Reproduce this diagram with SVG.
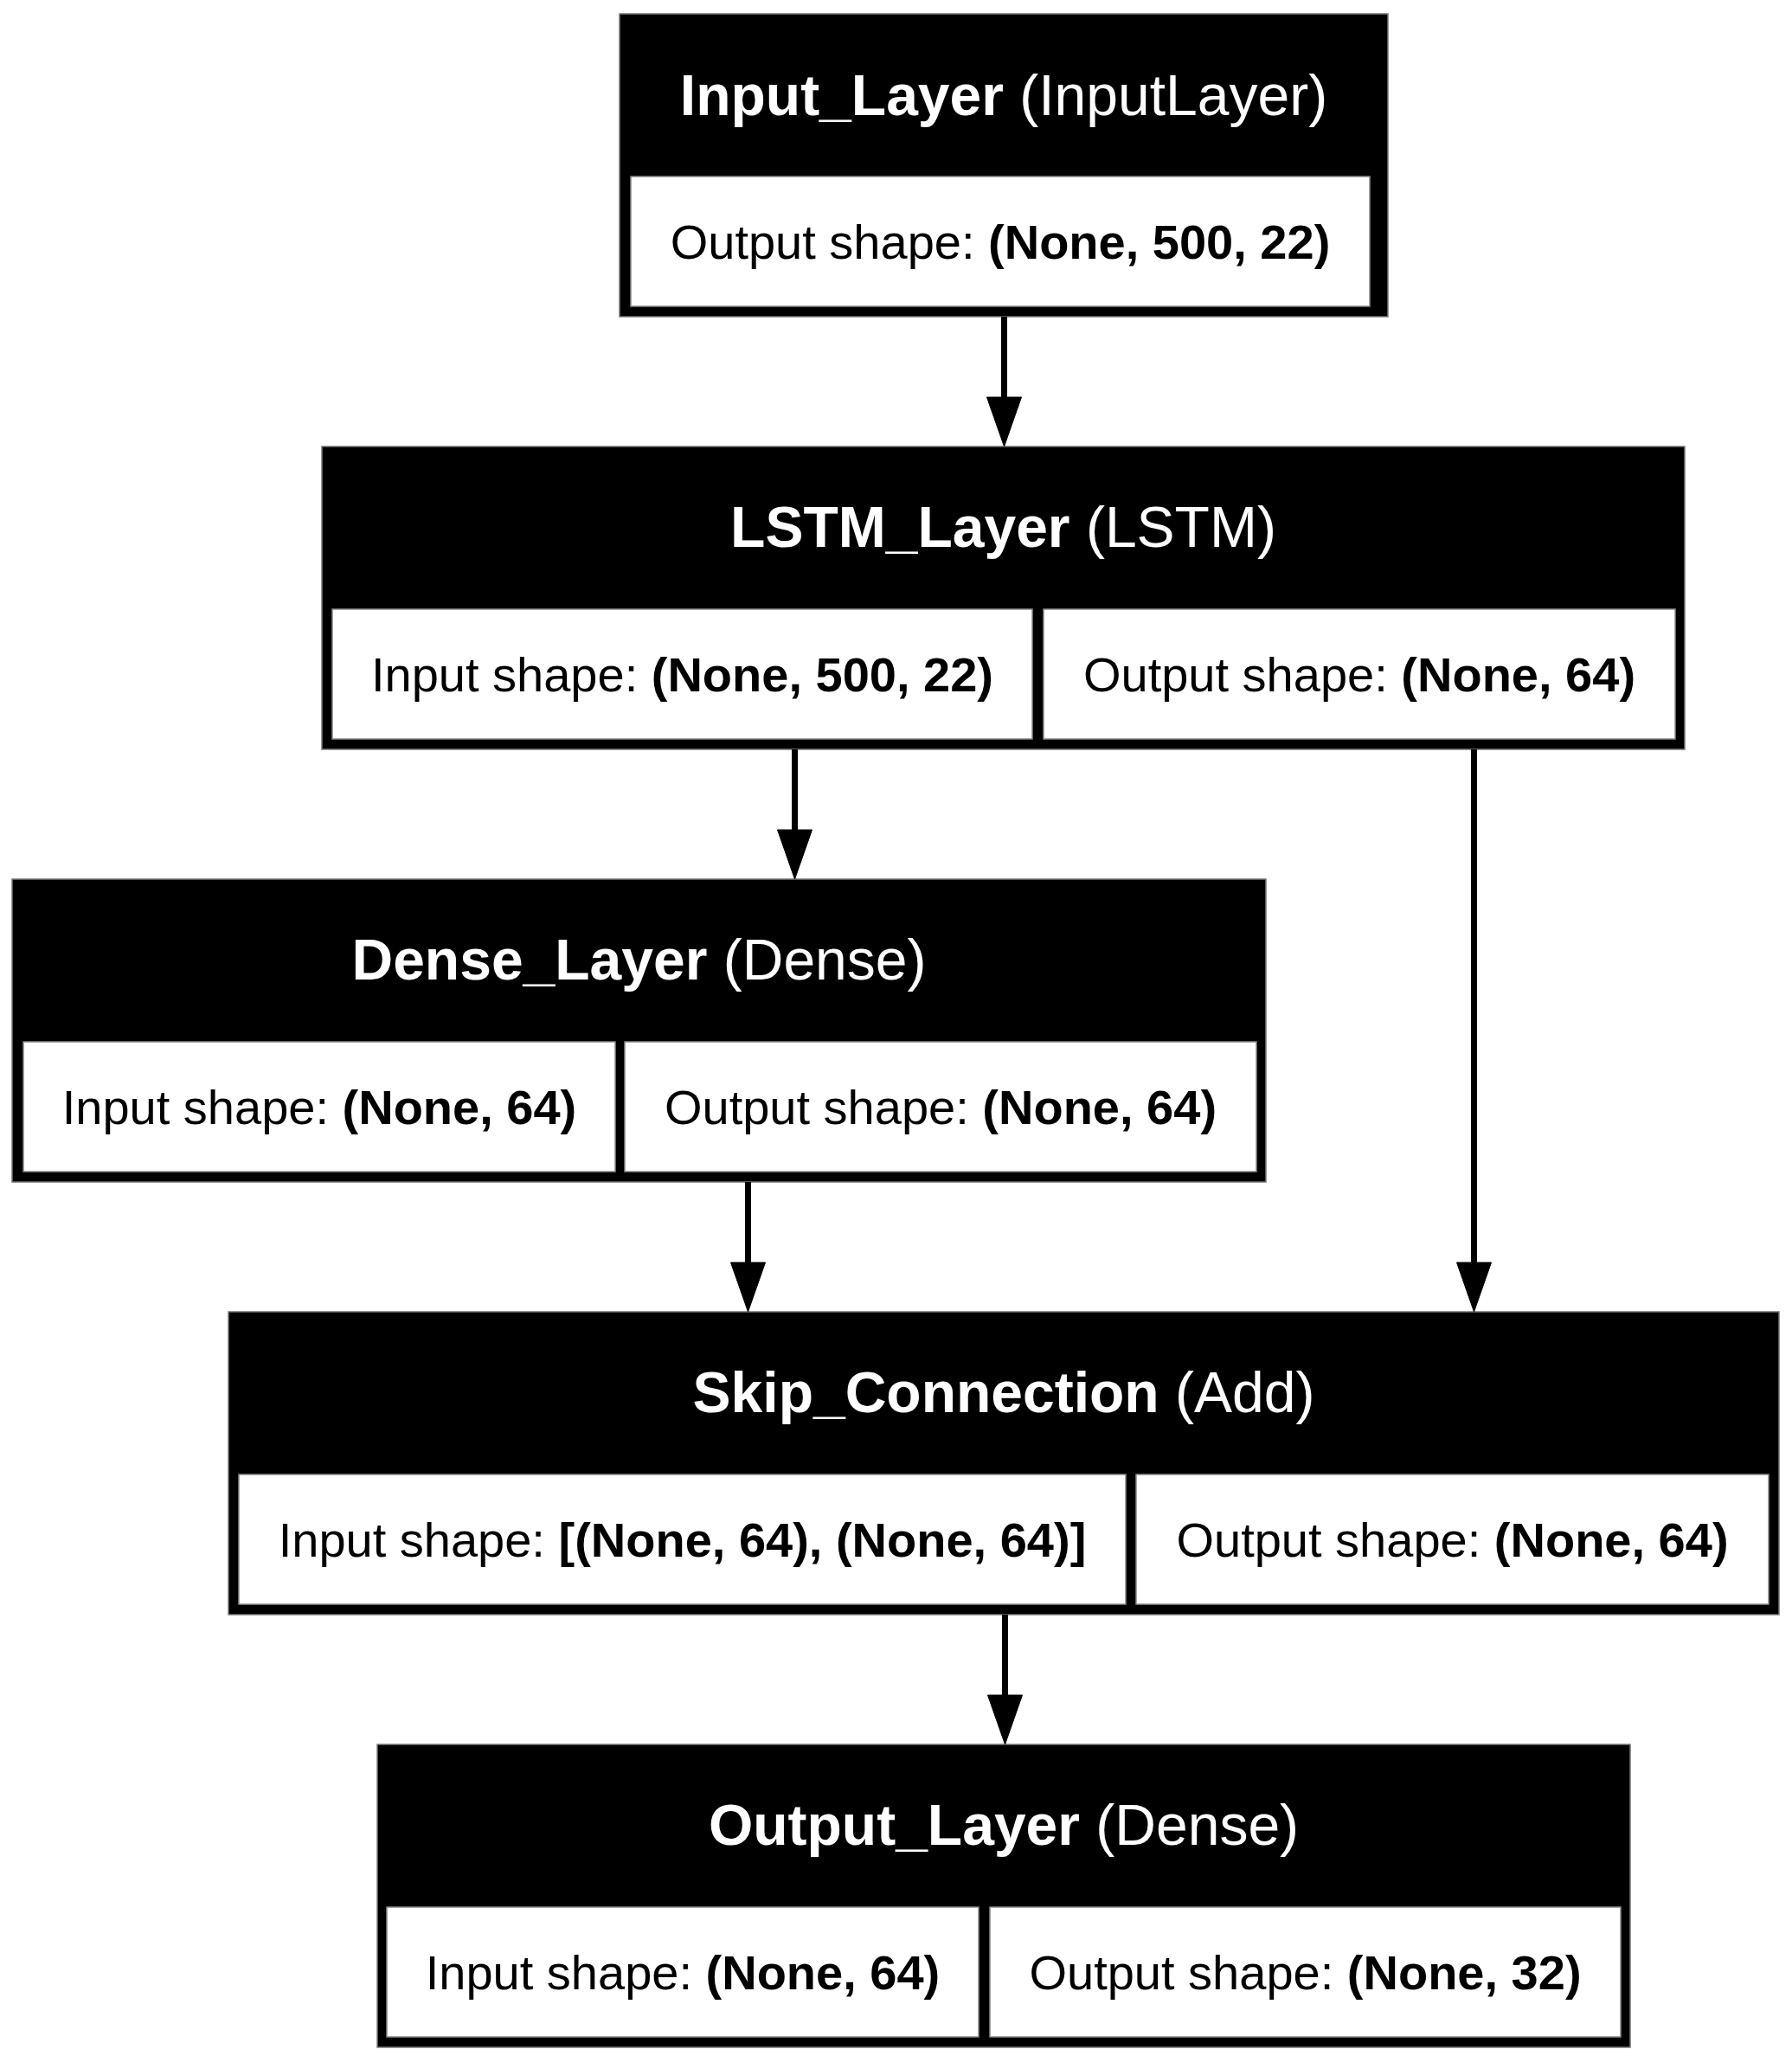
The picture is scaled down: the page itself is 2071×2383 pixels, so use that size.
<svg xmlns="http://www.w3.org/2000/svg" width="2071" height="2383" viewBox="0 0 2071 2383">
<style>
.box{fill:#000;stroke:#777;stroke-width:1.5}
.cell{fill:#fff;stroke:#888;stroke-width:1.5}
.title{font-family:"Liberation Sans",Arial,sans-serif;font-size:66px;fill:#fff;text-anchor:middle}
.txt{font-family:"Liberation Sans",Arial,sans-serif;font-size:56px;fill:#000;text-anchor:middle}
.b{font-weight:bold}
.edge{stroke:#000;stroke-width:7;fill:none}
.head{fill:#000;stroke:#000;stroke-width:1}
</style>
<rect width="2071" height="2383" fill="#fff"/>
<g id="node-input">
<rect class="box" x="716" y="16" width="888" height="350"/>
<text class="title" x="1160" y="133"><tspan class="b">Input_Layer</tspan> (InputLayer)</text>
<rect class="cell" x="729" y="204" width="854" height="150"/>
<text class="txt" x="1156" y="299">Output shape: <tspan class="b">(None, 500, 22)</tspan></text>
</g>
<g id="node-lstm">
<rect class="box" x="372" y="516" width="1575" height="350"/>
<text class="title" x="1159.5" y="632"><tspan class="b">LSTM_Layer</tspan> (LSTM)</text>
<rect class="cell" x="384" y="704" width="809" height="150"/>
<text class="txt" x="788.5" y="799">Input shape: <tspan class="b">(None, 500, 22)</tspan></text>
<rect class="cell" x="1206" y="704" width="730" height="150"/>
<text class="txt" x="1571" y="799">Output shape: <tspan class="b">(None, 64)</tspan></text>
</g>
<g id="node-dense">
<rect class="box" x="14" y="1016" width="1449" height="350"/>
<text class="title" x="738.5" y="1132"><tspan class="b">Dense_Layer</tspan> (Dense)</text>
<rect class="cell" x="27" y="1204" width="684" height="150"/>
<text class="txt" x="369" y="1299">Input shape: <tspan class="b">(None, 64)</tspan></text>
<rect class="cell" x="722" y="1204" width="730" height="150"/>
<text class="txt" x="1087" y="1299">Output shape: <tspan class="b">(None, 64)</tspan></text>
</g>
<g id="node-skip">
<rect class="box" x="264" y="1516" width="1792" height="350"/>
<text class="title" x="1160" y="1632"><tspan class="b">Skip_Connection</tspan> (Add)</text>
<rect class="cell" x="276" y="1704" width="1025" height="150"/>
<text class="txt" x="788.5" y="1799">Input shape: <tspan class="b">[(None, 64), (None, 64)]</tspan></text>
<rect class="cell" x="1313" y="1704" width="731" height="150"/>
<text class="txt" x="1678.5" y="1799">Output shape: <tspan class="b">(None, 64)</tspan></text>
</g>
<g id="node-output">
<rect class="box" x="436" y="2016" width="1448" height="350"/>
<text class="title" x="1160" y="2132"><tspan class="b">Output_Layer</tspan> (Dense)</text>
<rect class="cell" x="447" y="2204" width="684" height="150"/>
<text class="txt" x="789" y="2299">Input shape: <tspan class="b">(None, 64)</tspan></text>
<rect class="cell" x="1144" y="2204" width="729" height="150"/>
<text class="txt" x="1508.5" y="2299">Output shape: <tspan class="b">(None, 32)</tspan></text>
</g>
<g id="connectors">
<line class="edge" x1="1160.5" y1="366" x2="1160.5" y2="461"/>
<polygon class="head" points="1140.5,459 1180.5,459 1160.5,516"/>
<line class="edge" x1="918.5" y1="866" x2="918.5" y2="961"/>
<polygon class="head" points="898.5,959 938.5,959 918.5,1016"/>
<line class="edge" x1="1703.5" y1="866" x2="1703.5" y2="1461"/>
<polygon class="head" points="1683.5,1459 1723.5,1459 1703.5,1516"/>
<line class="edge" x1="864.5" y1="1366" x2="864.5" y2="1461"/>
<polygon class="head" points="844.5,1459 884.5,1459 864.5,1516"/>
<line class="edge" x1="1161.5" y1="1866" x2="1161.5" y2="1961"/>
<polygon class="head" points="1141.5,1959 1181.5,1959 1161.5,2016"/>
</g>
</svg>
